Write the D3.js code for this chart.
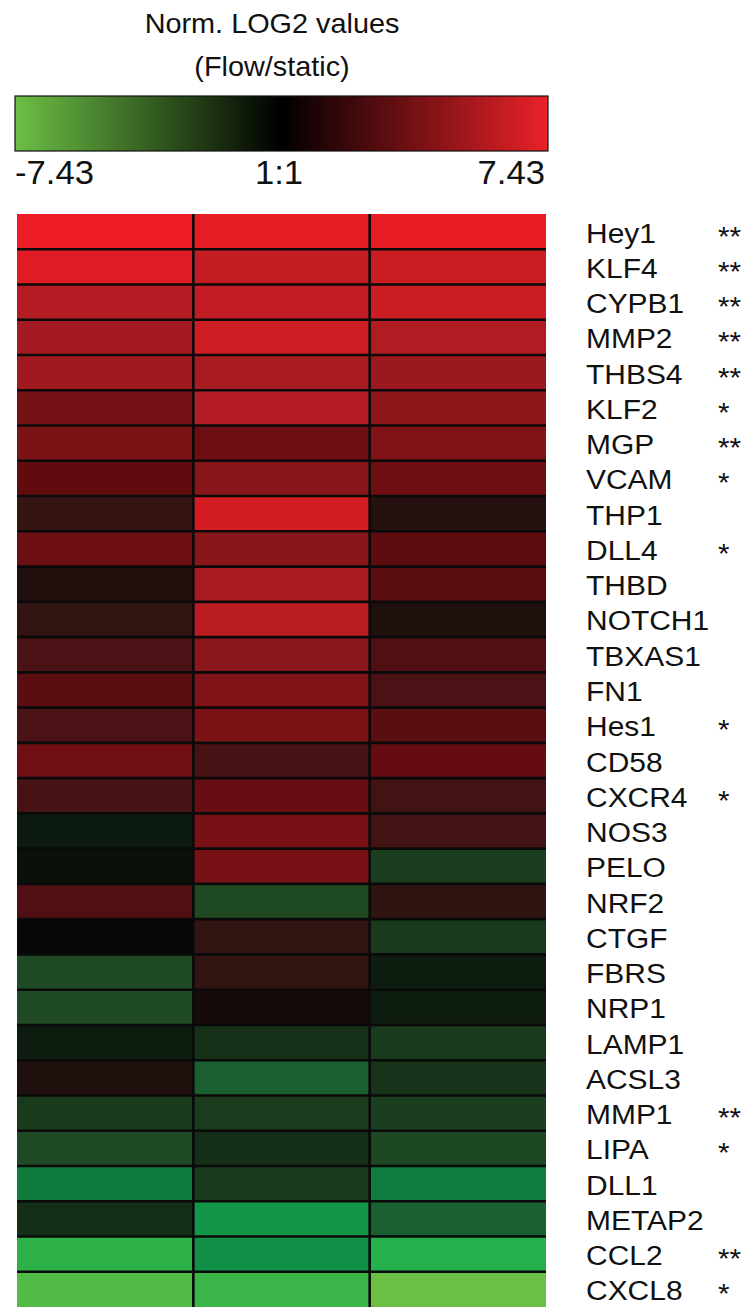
<!DOCTYPE html>
<html>
<head>
<meta charset="utf-8">
<script src="https://cdn.jsdelivr.net/npm/d3@7"></script>
<style>
  html, body { margin: 0; padding: 0; background: #fff; }
  svg { display: block; }
  text { font-family: "Liberation Sans", Arial, Helvetica, sans-serif; fill: #111; }
</style>
</head>
<body>
<svg id="chart" width="745" height="1311"></svg>
<script>
// ---------- DATA ----------
const genes = ["Hey1","KLF4","CYPB1","MMP2","THBS4","KLF2","MGP","VCAM","THP1","DLL4",
  "THBD","NOTCH1","TBXAS1","FN1","Hes1","CD58","CXCR4","NOS3","PELO","NRF2",
  "CTGF","FBRS","NRP1","LAMP1","ACSL3","MMP1","LIPA","DLL1","METAP2","CCL2","CXCL8"];
const significance = ["**","**","**","**","**","*","**","*","","*",
  "","","","","*","","*","","","",
  "","","","","","**","*","","","**","*"];
const columns = ["rep1","rep2","rep3"];
const rep1 = [7.43, 7.0, 5.5, 5.1, 4.9, 3.6, 3.8, 3.0, 1.5, 3.3,
  0.9, 1.4, 2.2, 2.8, 2.2, 3.4, 2.1, -0.9, -0.5, 2.4,
  -0.1, -3.0, -3.0, -1.0, 0.8, -2.3, -3.0, -5.0, -1.8, -6.6, -7.1];
const rep2 = [7.2, 6.1, 6.0, 6.4, 5.2, 5.5, 3.3, 4.2, 6.6, 4.2,
  5.2, 5.8, 4.3, 3.9, 3.8, 2.1, 3.2, 3.7, 3.7, -3.0,
  1.4, 1.4, 0.5, -1.9, -4.0, -2.4, -1.8, -2.3, -5.8, -5.6, -6.8];
const rep3 = [7.3, 6.3, 6.3, 5.4, 4.8, 4.4, 3.9, 3.3, 1.0, 2.9,
  2.8, 0.8, 2.4, 2.2, 2.7, 3.1, 1.9, 1.9, -2.5, 1.3,
  -2.3, -1.0, -1.0, -2.3, -2.0, -2.5, -2.9, -5.1, -4.0, -6.5, -7.43];
const legendTicks = ["-7.43", "1:1", "7.43"];
const legendTickValues = [-7.43, 0, 7.43];
const titleLines = ["Norm. LOG2 values", "(Flow/static)"];

// ---------- SCALES ----------
const values = [rep1, rep2, rep3];
const cells = [];
genes.forEach((g, i) => columns.forEach((c, j) => cells.push({gene: g, col: c, v: values[j][i]})));

const svg = d3.select("#chart");
const x = d3.scaleBand().domain(columns).range([17, 546]).paddingInner(0);
const y = d3.scaleBand().domain(genes).range([214, 1307]).paddingInner(0);

const color = d3.scaleLinear()
  .domain([-7.43, -6.5, -5.8, -5.0, -4.0, -3.0, -2.3, -1.0, 0, 1.4, 2.2, 3.0, 4.2, 5.5, 7.43])
  .range(["#6cbf45", "#24b04a", "#12964a", "#0e7a3c", "#1a6030", "#1f4a24", "#1a3a1c", "#0e1c10",
          "#050606", "#321512", "#4a1214", "#620b0f", "#88161a", "#b21c22", "#ed1c24"])
  .clamp(true);

// ---------- TITLE ----------
svg.selectAll("text.title").data(titleLines).join("text")
  .attr("class", "title")
  .attr("transform", (d, i) => `translate(272,${33 + i * 43}) scale(1.03,1)`)
  .attr("text-anchor", "middle")
  .style("font-size", "28px")
  .text(d => d);

// ---------- LEGEND ----------
const lx = d3.scaleLinear().domain([-7.43, 7.43]).range([15, 548]);
const defs = svg.append("defs");
const grad = defs.append("linearGradient").attr("id", "lg").attr("x1", "0%").attr("x2", "100%");
grad.append("stop").attr("offset", "0%").attr("stop-color", "#6cbf45");
grad.append("stop").attr("offset", "50%").attr("stop-color", "#000000");
grad.append("stop").attr("offset", "100%").attr("stop-color", "#ea2229");
svg.append("rect")
  .attr("x", lx(-7.43)).attr("y", 96)
  .attr("width", lx(7.43) - lx(-7.43)).attr("height", 55)
  .attr("fill", "url(#lg)").attr("stroke", "#111").attr("stroke-width", 1.2);

svg.selectAll("text.ltick").data(legendTicks).join("text")
  .attr("class", "ltick")
  .attr("transform", (d, i) => `translate(${i === 1 ? 279 : lx(legendTickValues[i]) + (i === 0 ? 0 : -3)},184) scale(1.05,1)`)
  .attr("text-anchor", (d, i) => i === 0 ? "start" : (i === 1 ? "middle" : "end"))
  .style("font-size", "33px")
  .text(d => d);

// ---------- HEATMAP ----------
svg.append("g").selectAll("rect").data(cells).join("rect")
  .attr("x", d => x(d.col)).attr("y", d => y(d.gene))
  .attr("width", x.bandwidth()).attr("height", y.bandwidth())
  .attr("fill", d => color(d.v));

const grid = svg.append("g").attr("stroke", "#0a0a0a").attr("stroke-width", 2.6);
grid.selectAll("line.h").data(genes.slice(1)).join("line")
  .attr("class", "h")
  .attr("x1", x.range()[0]).attr("x2", x.range()[1])
  .attr("y1", d => y(d)).attr("y2", d => y(d));
grid.selectAll("line.v").data(columns.slice(1)).join("line")
  .attr("class", "v")
  .attr("x1", d => x(d)).attr("x2", d => x(d))
  .attr("y1", y.range()[0]).attr("y2", y.range()[1]);

// ---------- ROW LABELS ----------
svg.selectAll("text.gene").data(genes).join("text")
  .attr("class", "gene")
  .attr("transform", d => `translate(586,${y(d) + y.bandwidth() / 2 + 11}) scale(1.07,1)`)
  .style("font-size", "28px")
  .text(d => d);

svg.selectAll("text.sig").data(genes).join("text")
  .attr("class", "sig")
  .attr("transform", d => `translate(718,${y(d) + y.bandwidth() / 2 + 14}) scale(1.1,1)`)
  .style("font-size", "27px")
  .text((d, i) => significance[i]);
</script>
</body>
</html>
